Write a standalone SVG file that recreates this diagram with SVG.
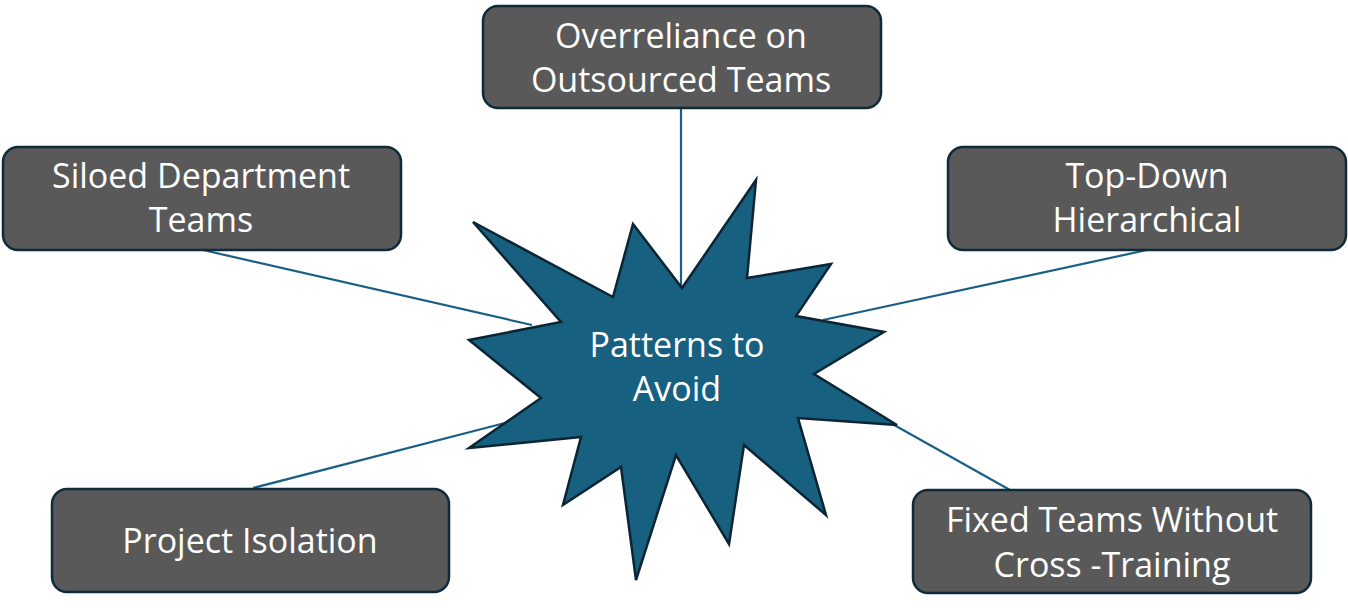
<svg xmlns="http://www.w3.org/2000/svg" width="1348" height="610" viewBox="0 0 1348 610">
<style>
.box{fill:#595959;stroke:#0f2a3b;stroke-width:2.5}
.lbl{font-family:"Open Sans","Liberation Sans",sans-serif;font-size:34px;fill:#ffffff;text-anchor:middle}
.conn{stroke:#1a6086;stroke-width:2.2;fill:none}
.star{fill:#17607f;stroke:#0b2535;stroke-width:2.5;stroke-linejoin:miter}
</style>
<rect width="1348" height="610" fill="#ffffff"/>
<g id="connectors">
<line class="conn" x1="681" y1="108" x2="681" y2="288"/>
<line class="conn" x1="203" y1="250" x2="532" y2="325"/>
<line class="conn" x1="1147" y1="250" x2="823" y2="320"/>
<line class="conn" x1="253" y1="488" x2="505" y2="423"/>
<line class="conn" x1="1010" y1="490" x2="871" y2="412"/>
</g>
<g id="center">
<polygon class="star" points="756,180 747,278 831,264 796,316 884,332 814,374 897,425 798,418 826,515 744,445 729,544 676,455 636,580 621,467 563,505 581,437 469,448 541,398 469,340 561,322 473,222 613,297 633,224 682,288"/>
<text class="lbl" x="677" y="357">Patterns to</text>
<text class="lbl" x="677" y="401">Avoid</text>
</g>
<g id="node-outsourced">
<rect class="box" x="483" y="6" width="398" height="102" rx="15"/>
<text class="lbl" x="681" y="48">Overreliance on</text>
<text class="lbl" x="681" y="92">Outsourced Teams</text>
</g>
<g id="node-siloed">
<rect class="box" x="3" y="147" width="398" height="103" rx="15"/>
<text class="lbl" x="201" y="188">Siloed Department</text>
<text class="lbl" x="201" y="232">Teams</text>
</g>
<g id="node-topdown">
<rect class="box" x="948" y="147" width="398" height="103" rx="15"/>
<text class="lbl" x="1147" y="188">Top-Down</text>
<text class="lbl" x="1147" y="232">Hierarchical</text>
</g>
<g id="node-isolation">
<rect class="box" x="52" y="489" width="397" height="103" rx="15"/>
<text class="lbl" x="250" y="553">Project Isolation</text>
</g>
<g id="node-fixed">
<rect class="box" x="913" y="490" width="398" height="103" rx="15"/>
<text class="lbl" x="1112" y="532">Fixed Teams Without</text>
<text class="lbl" x="1112" y="577">Cross -Training</text>
</g>
</svg>
